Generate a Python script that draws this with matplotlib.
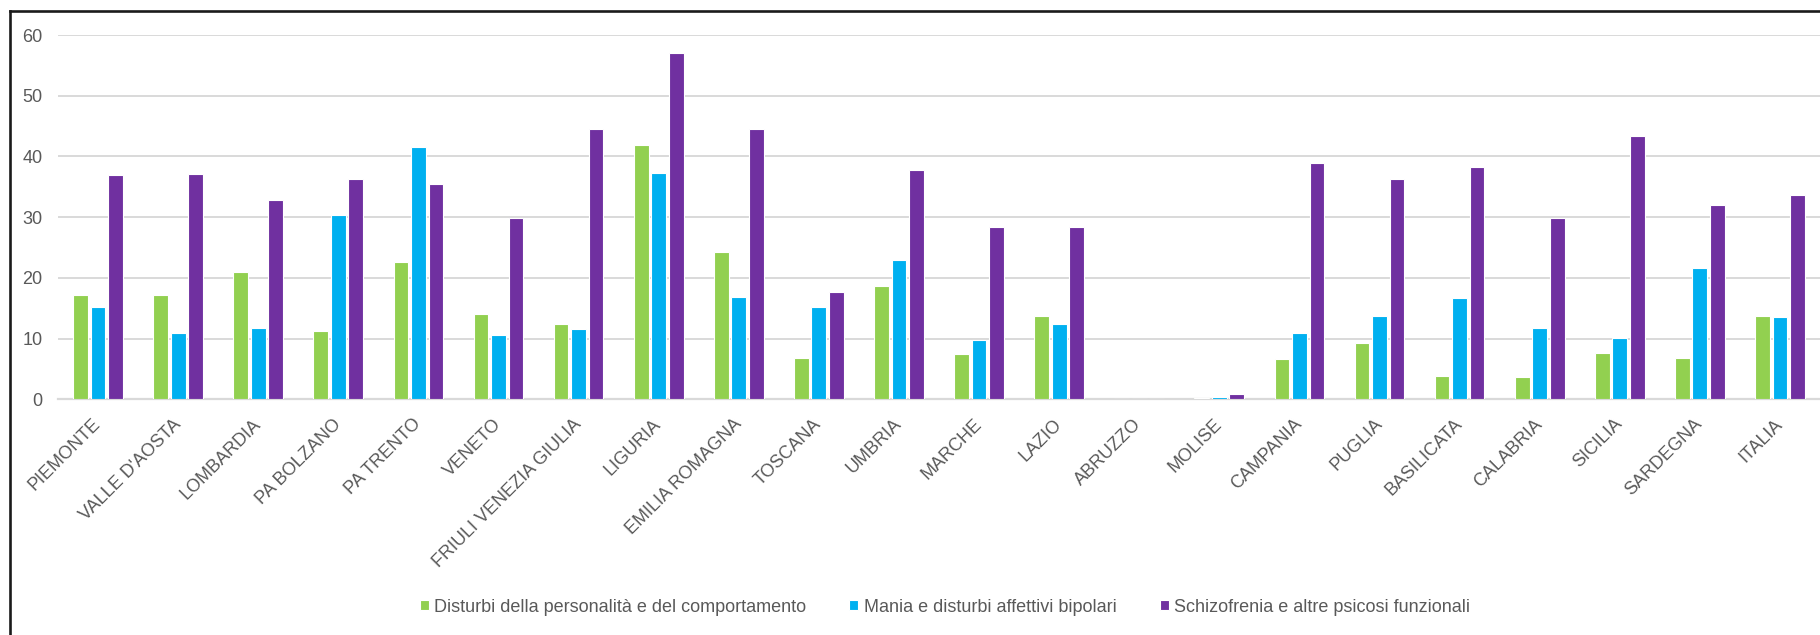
import matplotlib
matplotlib.use("Agg")
import matplotlib.pyplot as plt
import numpy as np
from matplotlib.lines import Line2D

plt.rcParams['font.family'] = ['Liberation Sans', 'DejaVu Sans']
fs = 13

regioni = ["PIEMONTE", "VALLE D'AOSTA", "LOMBARDIA", "PA BOLZANO", "PA TRENTO",
           "VENETO", "FRIULI VENEZIA GIULIA", "LIGURIA", "EMILIA ROMAGNA",
           "TOSCANA", "UMBRIA", "MARCHE", "LAZIO", "ABRUZZO", "MOLISE",
           "CAMPANIA", "PUGLIA", "BASILICATA", "CALABRIA", "SICILIA",
           "SARDEGNA", "ITALIA"]

# valori
personalita = [17.2, 17.2, 21.0, 11.3, 22.6, 14.0, 12.4, 41.9, 24.2, 6.8, 18.7,
               7.5, 13.8, 0.0, 0.2, 6.6, 9.3, 3.9, 3.7, 7.6, 6.8, 13.7]
bipolari = [15.2, 11.0, 11.8, 30.3, 41.6, 10.6, 11.6, 37.2, 16.9, 15.2, 22.9,
            9.8, 12.4, 0.0, 0.4, 11.0, 13.8, 16.7, 11.8, 10.1, 21.7, 13.5]
schizofrenia = [36.9, 37.1, 32.8, 36.3, 35.4, 29.8, 44.6, 57.1, 44.6, 17.6, 37.7,
                28.4, 28.4, 0.0, 0.9, 38.9, 36.3, 38.2, 29.8, 43.3, 32.0, 33.7]

serie = ["Disturbi della personalità e del comportamento",
         "Mania e disturbi affettivi bipolari",
         "Schizofrenia e altre psicosi funzionali"]
colori = ["#92D050", "#00B0F0", "#7030A0"]

W, H = 1820, 635
fig = plt.figure(figsize=(W / 100, H / 100), dpi=100)
ax = fig.add_axes([58 / W, 1 - 399.3 / H, (1820 - 58) / W, (399.3 - 35) / H])

x = np.arange(len(regioni))
off = 0.2185
larg = 0.185
for i, (vals, col, nome) in enumerate(zip([personalita, bipolari, schizofrenia], colori, serie)):
    ax.bar(x + (i - 1) * off, vals, width=larg, color=col, edgecolor='white',
           linewidth=0.8, label=nome, zorder=3)

ax.set_xlim(-0.5, len(regioni) - 0.5)
ax.set_ylim(0, 60)
ax.set_yticks(range(0, 61, 10))
ax.yaxis.grid(True, color='#D9D9D9', linewidth=1.4, zorder=0)
for s in ['top', 'right', 'left']:
    ax.spines[s].set_visible(False)
ax.spines['bottom'].set_color('#D9D9D9')
ax.spines['bottom'].set_linewidth(1.6)
ax.tick_params(axis='both', length=0, colors='#595959', labelsize=fs)
ax.tick_params(axis='y', pad=11)
ax.set_xticks(x)
ax.set_xticklabels(regioni, rotation=45, ha='right', va='center',
                   rotation_mode='anchor', color='#595959')
ax.tick_params(axis='x', pad=16)

leg = fig.legend(loc='center', bbox_to_anchor=(945 / W, 1 - 607 / H), ncol=3,
                 frameon=False, fontsize=fs, handlelength=0.5, handleheight=0.5,
                 handletextpad=0.3, columnspacing=2.4)
for t in leg.get_texts():
    t.set_color('#595959')

# cornice esterna
fig.add_artist(Line2D([9.7 / W, 9.7 / W], [0, 1 - 10.7 / H], transform=fig.transFigure,
                      color='#1a1a1a', linewidth=1.9))
fig.add_artist(Line2D([9.7 / W, 1], [1 - 10.7 / H, 1 - 10.7 / H], transform=fig.transFigure,
                      color='#1a1a1a', linewidth=1.9))

fig.savefig('out.png', dpi=100, facecolor='white')
